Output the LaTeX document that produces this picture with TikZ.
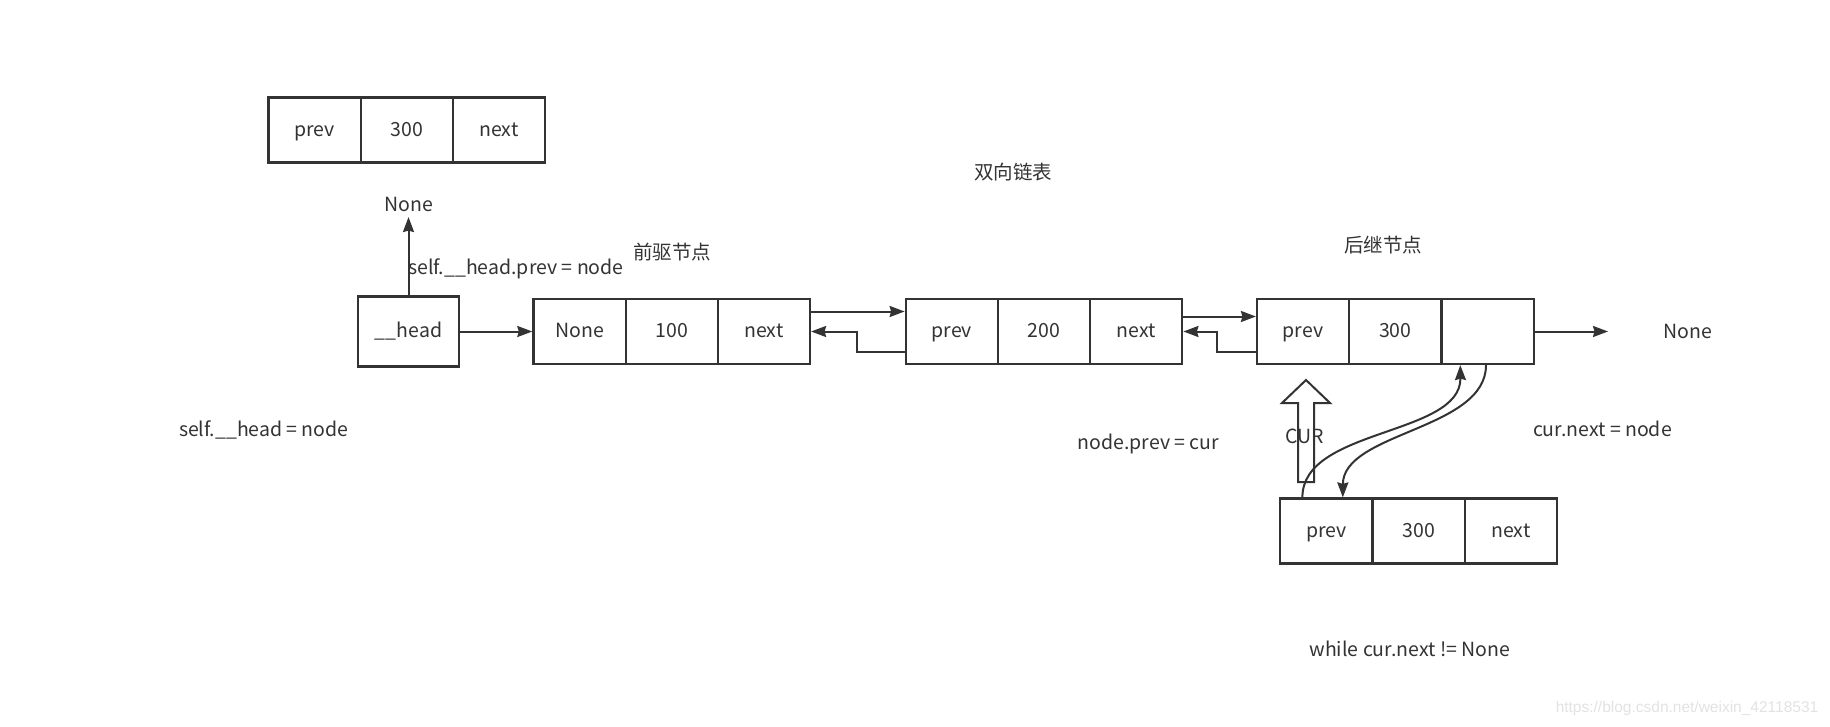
\documentclass[tikz,border=0pt]{standalone}
\usepackage{fontspec}
\setmainfont{Noto Sans CJK SC}
\newfontfamily\wmfont{Liberation Sans}
\usetikzlibrary{arrows.meta}
\definecolor{lc}{HTML}{333333}
\definecolor{wm}{HTML}{E2E2E2}
\begin{document}
\begin{tikzpicture}[x=1pt,y=-1pt,
  txt/.style={font=\fontsize{19.5}{22}\selectfont, text=lc, text height=1.45em, text depth=0.22em},
  cell/.style={txt, draw=lc, line width=2.2pt, minimum width=92.2pt, minimum height=65pt, inner sep=0pt},
  lbl/.style={txt, inner sep=0pt},
  arr/.style={draw=lc, line width=2pt, -{Stealth[length=15pt,width=11pt,inset=1.5pt]}},
  ln/.style={draw=lc, line width=2pt},
]
\path[use as bounding box] (0,0) rectangle (1830,727);

% top box
\node[cell] (ta) at (314.5,130) {prev};
\node[cell] (tb) at (406.7,130) {300};
\node[cell] (tc) at (498.9,130) {next};

% head
\node[cell, minimum width=100.4pt, minimum height=70pt] (head) at (408.5,331.5) {\_\_head};
\node[lbl] (none1) at (408.5,205.5) {None};
\node[lbl, anchor=west] (hp) at (408,268) {self.\_\_head.prev = node};
\node[lbl] (qq) at (672,253) {前驱节点};

% node1
\node[cell] (n1a) at (579.5,331.5) {None};
\node[cell] (n1b) at (671.7,331.5) {100};
\node[cell] (n1c) at (763.9,331.5) {next};
% node2
\node[cell] (n2a) at (951.8,331.5) {prev};
\node[cell] (n2b) at (1044,331.5) {200};
\node[cell] (n2c) at (1136.2,331.5) {next};
% node3
\node[cell] (n3a) at (1303.1,331.5) {prev};
\node[cell] (n3b) at (1395.3,331.5) {300};
\node[cell] (n3c) at (1487.5,331.5) {};
% new node
\node[cell] (ba) at (1326.4,531) {prev};
\node[cell] (bb) at (1418.6,531) {300};
\node[cell] (bc) at (1510.8,531) {next};

% labels
\node[lbl] (title) at (1013,173) {双向链表};
\node[lbl] (hj) at (1383,246.5) {后继节点};
\node[lbl] (none2) at (1687.6,332.6) {None};
\node[lbl] (sh) at (263.8,430.7) {self.\_\_head = node};
\node[lbl] (npc) at (1148.5,443.5) {node.prev = cur};
\node[lbl] (cnn) at (1602.4,430.7) {cur.next = node};
\node[lbl] (wh) at (1409.8,650) {while cur.next != None};
\node[font=\wmfont\fontsize{15.5}{17}\selectfont, text=wm, inner sep=0pt] (wmk) at (1687,708.4) {https://blog.csdn.net/weixin\_42118531};

% connectors
\draw[arr] (head.north) -- ([yshift=-3pt]none1.south);
\draw[arr] (head.east) -- (n1a.west);
\draw[arr] ([yshift=20pt]n1c.east) -- ([yshift=20pt]n2a.west);
\draw[arr] ([yshift=-20.5pt]n2a.west) -- ++(-48,0) |- (n1c.east);
\draw[arr] ([yshift=15pt]n2c.east) -- ([yshift=15pt]n3a.west);
\draw[arr] ([yshift=-20.5pt]n3a.west) -- ++(-38.5,0) |- (n2c.east);
\coordinate (nend) at (1608,331.5);
\draw[arr] (n3c.east) -- (nend);

% hollow CUR arrow
\draw[ln, fill=white, line join=miter] (1298,482) -- (1298,403) -- (1282,403) -- (1306,380) -- (1330,403) -- (1314,403) -- (1314,482) -- cycle;

% curves
\draw[arr] ([xshift=-24pt]ba.north) .. controls (1302,428) and (1461,436) .. ([xshift=20pt]n3c.south west);
\draw[arr] ([xshift=-1.5pt]n3c.south) .. controls (1486,430) and (1343,432) .. ([xshift=16.4pt]ba.north);

\node[lbl] (cur) at (1305,437) {CUR};
\end{tikzpicture}
\end{document}
